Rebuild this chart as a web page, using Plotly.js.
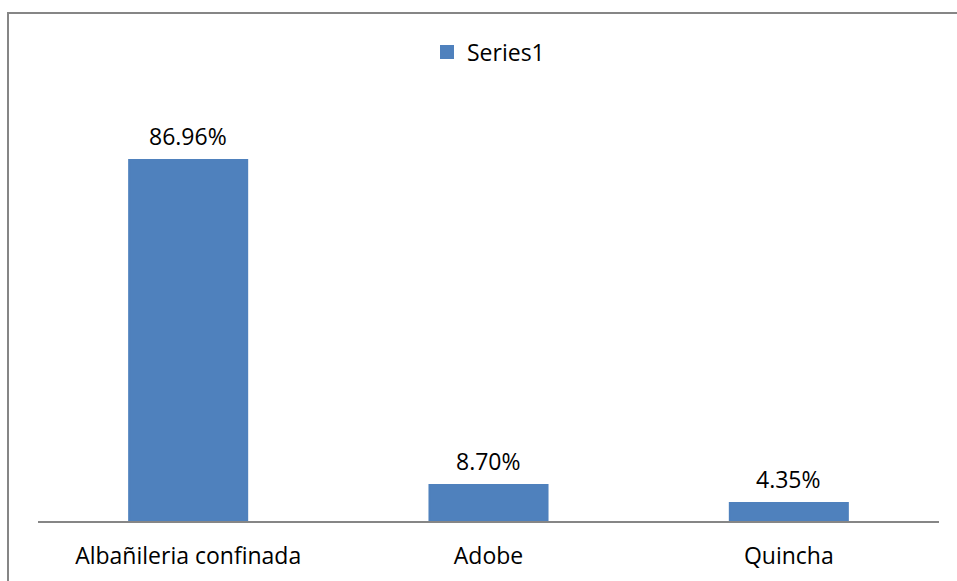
<!DOCTYPE html>
<html>
<head>
<meta charset="utf-8">
<script src="https://cdn.plot.ly/plotly-3.0.1.min.js"></script>
<style>
html,body{margin:0;padding:0;background:#fff;}
#chart{width:957px;height:581px;}
</style>
</head>
<body>
<div id="chart"></div>
<script>
const categories = ["Albañileria confinada", "Adobe", "Quincha"];
const values = [86.96, 8.70, 4.35];
const labels = ["86.96%", "8.70%", "4.35%"];
const seriesName = "Series1";

const FONT = "'Open Sans', sans-serif";
const FS = 23;

const trace = {
  type: "bar",
  x: categories,
  y: values,
  name: seriesName,
  marker: {color: "#4F81BD", line: {color: "#4F81BD", width: 2}},
  showlegend: true,
  hoverinfo: "none"
};

const annotations = categories.map((c, i) => ({
  x: c, y: values[i], xref: "x", yref: "y",
  text: labels[i], showarrow: false,
  yanchor: "bottom", yshift: 6,
  font: {family: FONT, size: FS, color: "#000"}
}));

const layout = {
  width: 957, height: 581,
  margin: {l: 38, r: 18, t: 106, b: 60},
  paper_bgcolor: "#fff", plot_bgcolor: "#fff",
  bargap: 0.607,
  font: {family: FONT, size: FS, color: "#000"},
  xaxis: {
    showline: true, linecolor: "#868686", linewidth: 1.5,
    ticks: "", showgrid: false, zeroline: false,
    ticklabelstandoff: 14,
    tickfont: {family: FONT, size: FS, color: "#000"}
  },
  yaxis: {
    range: [0, 100], visible: false, showgrid: false, zeroline: false
  },
  showlegend: true,
  legend: {
    orientation: "h", x: 0.5, xanchor: "center", y: 1.13, yanchor: "middle",
    font: {family: FONT, size: FS, color: "#000"}
  },
  annotations: annotations,
  shapes: [
    {type: "line", xref: "paper", yref: "paper", x0: -0.0333, x1: -0.0333, y0: -0.2, y1: 1.2241,
     line: {color: "#868686", width: 2}},
    {type: "line", xref: "paper", yref: "paper", x0: -0.0344, x1: 1.1, y0: 1.2241, y1: 1.2241,
     line: {color: "#868686", width: 2}}
  ]
};

Plotly.newPlot("chart", [trace], layout, {staticPlot: true, displayModeBar: false});
</script>
</body>
</html>
